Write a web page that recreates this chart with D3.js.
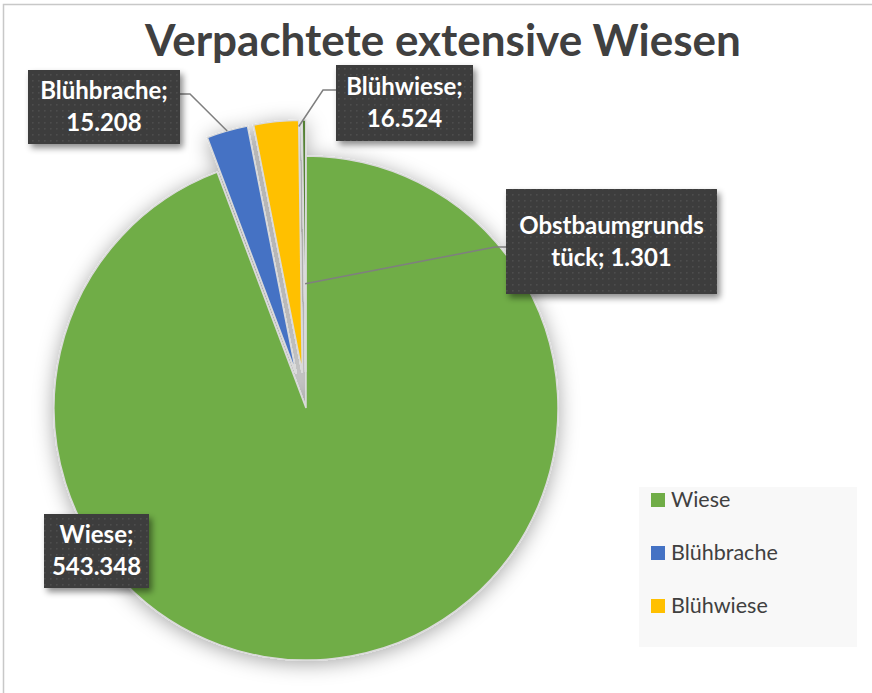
<!DOCTYPE html>
<html>
<head>
<meta charset="utf-8">
<script src="https://cdn.jsdelivr.net/npm/d3@7/dist/d3.min.js"></script>
<style>
  body { margin: 0; background: #fff; }
  svg { display: block; }
</style>
</head>
<body>
<svg id="chart" width="872" height="693"></svg>
<script>
// data
const categories = ["Wiese", "Blühbrache", "Blühwiese", "Obstbaumgrundstück"];
const values = [543.348, 15.208, 16.524, 1.301];
const colors = ["#70ad47", "#4472c4", "#ffc000", "#548235"];
const labelLines = [
    ["Wiese;", "543.348"],
    ["Blühbrache;", "15.208"],
    ["Blühwiese;", "16.524"],
    ["Obstbaumgrunds", "tück; 1.301"]
];
const legendItems = ["Wiese", "Blühbrache", "Blühwiese"];

// layout (boxes were placed by hand in the original)
const cx = 306, cy = 408, radius = 252, explode = 36;
const boxes = [
    {x: 44, y: 514, w: 105, h: 74, lead: null},
    {x: 28, y: 70, w: 152, h: 74, lead: {side: "right", y: 94, kink: 10, ang: "mid", r: 1}},
    {x: 336, y: 65, w: 137, h: 76, lead: {side: "left", y: 90, kink: 13, ang: "end", r: 0.975}},
    {x: 506, y: 189, w: 211, h: 105, lead: {side: "left", y: 247, kink: 11, ang: "mid", r: 0.35}}
];

const svg = d3.select("#chart");
const defs = svg.append("defs");

// soft shadow round the pie
const pf = defs.append("filter").attr("id", "pieShadow")
    .attr("x", "-20%").attr("y", "-20%").attr("width", "140%").attr("height", "140%");
pf.append("feDropShadow").attr("dx", 0).attr("dy", 3).attr("stdDeviation", 10)
    .attr("flood-color", "#000").attr("flood-opacity", 0.35);

// label box shadow
const lf = defs.append("filter").attr("id", "boxShadow")
    .attr("x", "-20%").attr("y", "-20%").attr("width", "150%").attr("height", "150%");
lf.append("feDropShadow").attr("dx", 3).attr("dy", 4).attr("stdDeviation", 3)
    .attr("flood-color", "#000").attr("flood-opacity", 0.45);

// dotted fill of the label boxes
const pat = defs.append("pattern").attr("id", "dots")
    .attr("width", 6).attr("height", 6).attr("patternUnits", "userSpaceOnUse");
pat.append("rect").attr("width", 6).attr("height", 6).attr("fill", "#3d3d3d");
pat.append("rect").attr("x", 2).attr("y", 2).attr("width", 1.5).attr("height", 1.5).attr("fill", "#4e4e4e");

// chart frame
svg.append("rect")
    .attr("x", 3.5).attr("y", 4.5).attr("width", 900).attr("height", 800)
    .attr("fill", "none").attr("stroke", "#c8c8c8").attr("stroke-width", 1.5);

// title
svg.append("text")
    .attr("x", 443).attr("y", 56)
    .attr("text-anchor", "middle")
    .style("font-family", "Lato, 'Open Sans', sans-serif")
    .style("font-weight", "bold")
    .style("font-size", "44px")
    .attr("fill", "#404040")
    .text("Verpachtete extensive Wiesen");

const data = categories.map((c, i) => ({name: c, value: values[i], color: colors[i], idx: i}));
const pie = d3.pie().sort(null).value(d => d.value);
const arcs = pie(data);
const arc = d3.arc().innerRadius(0).outerRadius(radius);

function offset(a) {
    if (a.data.idx === 0) return [0, 0];
    const m = (a.startAngle + a.endAngle) / 2;
    return [Math.sin(m) * explode, -Math.cos(m) * explode];
}

const pieG = svg.append("g")
    .attr("transform", "translate(" + cx + "," + cy + ")")
    .attr("filter", "url(#pieShadow)");

pieG.selectAll("path")
    .data(arcs)
    .enter().append("path")
    .attr("transform", d => "translate(" + offset(d) + ")")
    .attr("d", arc)
    .attr("fill", d => d.data.color)
    .attr("stroke", "#dadada")
    .attr("stroke-width", 1.5);

// leader lines
const leadG = svg.append("g");
arcs.forEach((a, i) => {
    const b = boxes[i];
    if (!b.lead) return;
    const o = offset(a);
    const ang = b.lead.ang === "end" ? a.endAngle : (a.startAngle + a.endAngle) / 2;
    const px = cx + o[0] + Math.sin(ang) * radius * b.lead.r;
    const py = cy + o[1] - Math.cos(ang) * radius * b.lead.r;
    const bx = b.lead.side === "right" ? b.x + b.w : b.x;
    const kx = b.lead.side === "right" ? bx + b.lead.kink : bx - b.lead.kink;
    leadG.append("polyline")
        .attr("points", [[bx, b.lead.y], [kx, b.lead.y], [px, py]].map(p => p.join(",")).join(" "))
        .attr("fill", "none")
        .attr("stroke", "#7f7f7f")
        .attr("stroke-width", 1.5);
});

// data labels
const labG = svg.append("g");
boxes.forEach((b, i) => {
    labG.append("rect")
        .attr("x", b.x).attr("y", b.y).attr("width", b.w).attr("height", b.h)
        .attr("fill", "url(#dots)")
        .attr("filter", "url(#boxShadow)");
    const midY = b.y + b.h / 2;
    labelLines[i].forEach((t, j) => {
        labG.append("text")
            .attr("x", b.x + b.w / 2)
            .attr("y", midY + (j - 0.5) * 32 + 8)
            .attr("text-anchor", "middle")
            .style("font-family", "Lato, 'Open Sans', sans-serif")
            .style("font-weight", "bold")
            .style("font-size", "24px")
            .attr("fill", "#fff")
            .text(t);
    });
});

// legend
const lg = svg.append("g").attr("transform", "translate(639,487)");
lg.append("rect").attr("width", 218).attr("height", 160).attr("fill", "#f8f8f8");
const ly = d3.scalePoint().domain(legendItems).range([13, 119]);
legendItems.forEach((name, i) => {
    lg.append("rect")
        .attr("x", 12).attr("y", ly(name) - 7)
        .attr("width", 14).attr("height", 14)
        .attr("fill", colors[i]);
    lg.append("text")
        .attr("x", 32).attr("y", ly(name) + 7)
        .style("font-family", "Lato, 'Open Sans', sans-serif")
        .style("font-size", "21.5px")
        .attr("fill", "#404040")
        .text(name);
});
</script>
</body>
</html>
